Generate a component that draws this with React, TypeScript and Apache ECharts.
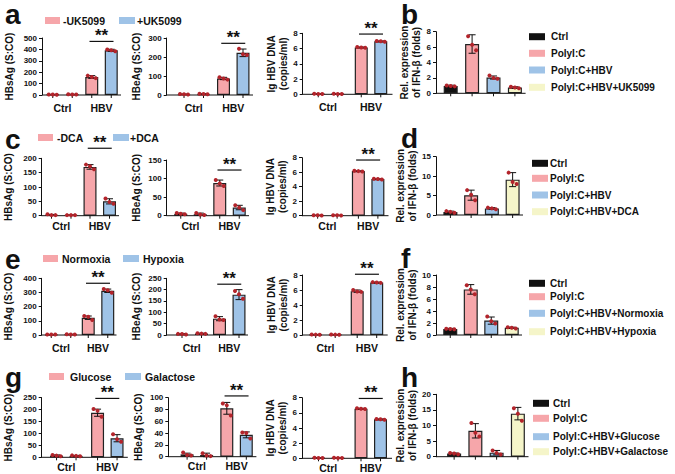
import React, { useEffect, useRef } from 'react';
import * as echarts from 'echarts';

const FONT = '"Liberation Sans", Arial, Helvetica, sans-serif';
const PINK = '#F6A6AA';
const BLUE = '#9FC3E7';
const YELLOW = '#F5F5C9';
const BLACK = '#111111';
const DOT = '#B3242B';

// ---------- categories / labels ----------
const CATEGORIES = ['Ctrl', 'HBV'];
const aLegend = ['-UK5099', '+UK5099'];
const cLegend = ['-DCA', '+DCA'];
const eLegend = ['Normoxia', 'Hypoxia'];
const gLegend = ['Glucose', 'Galactose'];
const bGroups = ['Ctrl', 'PolyI:C', 'PolyI:C+HBV', 'PolyI:C+HBV+UK5099'];
const dGroups = ['Ctrl', 'PolyI:C', 'PolyI:C+HBV', 'PolyI:C+HBV+DCA'];
const fGroups = ['Ctrl', 'PolyI:C', 'PolyI:C+HBV+Normoxia', 'PolyI:C+HBV+Hypoxia'];
const hGroups = ['Ctrl', 'PolyI:C', 'PolyI:C+HBV+Glucose', 'PolyI:C+HBV+Galactose'];
const sAgTitle = 'HBsAg (S:CO)';
const eAgTitle = 'HBeAg (S:CO)';
const dnaTitle = 'lg HBV DNA\n(copies/ml)';
const ifnTitle = 'Rel. expression\nof IFN-β (folds)';

// ---------- tick labels ----------
const aSAgTicks = [0, 100, 200, 300, 400, 500];
const aEAgTicks = [0, 100, 200, 300];
const cSAgTicks = [0, 50, 100, 150, 200];
const cEAgTicks = [0, 50, 100, 150];
const eSAgTicks = [0, 100, 200, 300, 400];
const eEAgTicks = [0, 50, 100, 150, 200, 250];
const gSAgTicks = [0, 50, 100, 150, 200, 250];
const gEAgTicks = [0, 20, 40, 60, 80, 100];
const dnaTicks = [0, 2, 4, 6, 8];
const bTicks = [0, 2, 4, 6, 8];
const dTicks = [0, 5, 10, 15];
const fTicks = [0, 2, 4, 6, 8, 10];
const hTicks = [0, 5, 10, 15, 20];

// ---------- row a (UK5099) ----------
const aSAgNeg = [4, 158]; const aSAgNegSD = [1, 12]; const aSAgNegPts = [[5, 4, 3], [170, 158, 148]];
const aSAgPos = [5, 392]; const aSAgPosSD = [1, 9]; const aSAgPosPts = [[6, 5, 4], [400, 392, 384]];
const aEAgNeg = [4, 87]; const aEAgNegSD = [1, 6]; const aEAgNegPts = [[5, 4, 3], [93, 87, 81]];
const aEAgPos = [5, 222]; const aEAgPosSD = [2, 20]; const aEAgPosPts = [[7, 5, 4], [243, 215, 210]];
const aDnaNeg = [0.05, 6.15]; const aDnaNegSD = [0.02, 0.05]; const aDnaNegPts = [[0.06, 0.05, 0.04], [6.2, 6.15, 6.1]];
const aDnaPos = [0.05, 6.95]; const aDnaPosSD = [0.02, 0.05]; const aDnaPosPts = [[0.06, 0.05, 0.04], [7.0, 6.95, 6.9]];
const aSig = [470, 272, 7.9];
const bIfn = [0.95, 6.4, 2.05, 0.75]; const bIfnSD = [0.1, 1.2, 0.2, 0.1];
const bIfnPts = [[1.0, 0.95, 0.9], [7.4, 6.3, 5.6], [2.3, 2.0, 1.9], [0.85, 0.75, 0.65]];

// ---------- row c (DCA) ----------
const cSAgNeg = [3, 170]; const cSAgNegSD = [1.5, 8]; const cSAgNegPts = [[5, 2, 2], [178, 172, 162]];
const cSAgPos = [2, 50]; const cSAgPosSD = [0.5, 9]; const cSAgPosPts = [[2, 2, 2], [60, 48, 42]];
const cEAgNeg = [5, 88]; const cEAgNegSD = [2, 8]; const cEAgNegPts = [[7, 5, 4], [96, 87, 80]];
const cEAgPos = [4, 22]; const cEAgPosSD = [3, 6]; const cEAgPosPts = [[7, 3, 2], [28, 22, 15]];
const cDnaNeg = [0.05, 6.15]; const cDnaNegSD = [0.02, 0.05]; const cDnaNegPts = [[0.06, 0.05, 0.04], [6.2, 6.15, 6.1]];
const cDnaPos = [0.05, 5.05]; const cDnaPosSD = [0.02, 0.05]; const cDnaPosPts = [[0.06, 0.05, 0.04], [5.1, 5.05, 5.0]];
const cSig = [235, 123, 7.68];
const dIfn = [0.8, 5.1, 1.7, 9.1]; const dIfnSD = [0.2, 1.3, 0.2, 1.8];
const dIfnPts = [[1.0, 0.8, 0.6], [6.4, 5.2, 3.8], [1.9, 1.7, 1.5], [10.9, 8.5, 8.0]];

// ---------- row e (Normoxia / Hypoxia) ----------
const eSAgNeg = [3, 122]; const eSAgNegSD = [0.5, 12]; const eSAgNegPts = [[3, 3, 3], [134, 128, 106]];
const eSAgPos = [4, 312]; const eSAgPosSD = [1, 12]; const eSAgPosPts = [[5, 4, 3], [325, 315, 298]];
const eEAgNeg = [4, 72]; const eEAgNegSD = [2, 9]; const eEAgNegPts = [[5, 4, 2], [83, 68, 66]];
const eEAgPos = [6, 178]; const eEAgPosSD = [2, 22]; const eEAgPosPts = [[8, 6, 5], [194, 180, 160]];
const eDnaNeg = [0.05, 5.85]; const eDnaNegSD = [0.02, 0.15]; const eDnaNegPts = [[0.06, 0.05, 0.04], [6.0, 5.8, 5.75]];
const eDnaPos = [0.05, 7.0]; const eDnaPosSD = [0.02, 0.05]; const eDnaPosPts = [[0.06, 0.05, 0.04], [7.05, 7.0, 6.95]];
const eSig = [365, 224, 8.1];
const fIfn = [1.0, 7.6, 2.4, 1.2]; const fIfnSD = [0.1, 0.8, 0.6, 0.1];
const fIfnPts = [[1.05, 1.0, 0.95], [8.3, 7.6, 6.8], [3.1, 2.3, 1.9], [1.3, 1.2, 1.1]];

// ---------- row g (Glucose / Galactose) ----------
const gSAgNeg = [7, 187]; const gSAgNegSD = [3, 15]; const gSAgNegPts = [[10, 7, 4], [203, 195, 170]];
const gSAgPos = [6, 80]; const gSAgPosSD = [2, 15]; const gSAgPosPts = [[8, 6, 4], [97, 76, 65]];
const gEAgNeg = [4, 82]; const gEAgNegSD = [2, 10]; const gEAgNegPts = [[7, 3, 2], [90, 87, 70]];
const gEAgPos = [3, 37]; const gEAgPosSD = [3, 5]; const gEAgPosPts = [[6, 2, 1], [41, 40, 31]];
const gDnaNeg = [0.05, 6.55]; const gDnaNegSD = [0.02, 0.05]; const gDnaNegPts = [[0.06, 0.05, 0.04], [6.6, 6.55, 6.5]];
const gDnaPos = [0.05, 5.15]; const gDnaPosSD = [0.02, 0.05]; const gDnaPosPts = [[0.06, 0.05, 0.04], [5.2, 5.15, 5.1]];
const gSig = [247, 103, 7.9];
const hIfn = [1.0, 8.3, 1.3, 13.8]; const hIfnSD = [0.2, 2.3, 0.7, 2.0];
const hIfnPts = [[1.2, 1.0, 0.8], [10.8, 7.7, 6.5], [2.0, 1.2, 0.7], [15.5, 13.8, 11.5]];

// ---------- layout (positions only) ----------
type Box = { axisX: number; left: number; width: number; top: number; bottom: number };
const ROWS = [
  {
    letter: 'a', ifnLetter: 'b', legend: aLegend, groups: bGroups, labelMargin: 7,
    letterPos: [5, 14], ifnLetterPos: [401, 14], legendY: 20.5, legendX: [45, 63, 119, 137],
    ifnLegX: [529, 551], ifnLegY: [36.7, 53.3, 70, 87.3],
    boxes: [
      { axisX: 42, left: 43, width: 78, top: 38, bottom: 95 },
      { axisX: 166.7, left: 174, width: 79, top: 38, bottom: 95 },
      { axisX: 302.7, left: 306.5, width: 86, top: 33.3, bottom: 94.3 },
    ] as Box[],
    ifnBox: { axisX: 436, left: 440, width: 85.6, top: 31.7, bottom: 93.3 },
    ticks: [aSAgTicks, aEAgTicks, dnaTicks], ifnTicks: bTicks,
    neg: [[aSAgNeg, aSAgNegSD, aSAgNegPts], [aEAgNeg, aEAgNegSD, aEAgNegPts], [aDnaNeg, aDnaNegSD, aDnaNegPts]],
    pos: [[aSAgPos, aSAgPosSD, aSAgPosPts], [aEAgPos, aEAgPosSD, aEAgPosPts], [aDnaPos, aDnaPosSD, aDnaPosPts]],
    sig: aSig, ifn: [bIfn, bIfnSD, bIfnPts],
  },
  {
    letter: 'c', ifnLetter: 'd', legend: cLegend, groups: dGroups, labelMargin: 5,
    letterPos: [5, 139], ifnLetterPos: [401, 138], legendY: 137.5, legendX: [38, 57, 113, 130],
    ifnLegX: [532, 550], ifnLegY: [163.3, 178.3, 195, 211.7],
    boxes: [
      { axisX: 41.7, left: 42, width: 77, top: 158.3, bottom: 215.7 },
      { axisX: 166.7, left: 171, width: 78, top: 160, bottom: 215.7 },
      { axisX: 302, left: 307, width: 81.5, top: 157.7, bottom: 215.7 },
    ] as Box[],
    ifnBox: { axisX: 436, left: 440, width: 83, top: 156.7, bottom: 215 },
    ticks: [cSAgTicks, cEAgTicks, dnaTicks], ifnTicks: dTicks,
    neg: [[cSAgNeg, cSAgNegSD, cSAgNegPts], [cEAgNeg, cEAgNegSD, cEAgNegPts], [cDnaNeg, cDnaNegSD, cDnaNegPts]],
    pos: [[cSAgPos, cSAgPosSD, cSAgPosPts], [cEAgPos, cEAgPosSD, cEAgPosPts], [cDnaPos, cDnaPosSD, cDnaPosPts]],
    sig: cSig, ifn: [dIfn, dIfnSD, dIfnPts],
  },
  {
    letter: 'e', ifnLetter: 'f', legend: eLegend, groups: fGroups, labelMargin: 7,
    letterPos: [5, 259], ifnLetterPos: [401, 258], legendY: 258.5, legendX: [43, 62, 123, 143],
    ifnLegX: [529, 550], ifnLegY: [283.3, 296.7, 313.3, 331.7],
    boxes: [
      { axisX: 41.7, left: 42.5, width: 74, top: 278.3, bottom: 335 },
      { axisX: 166.7, left: 173, width: 75, top: 278.3, bottom: 335 },
      { axisX: 302.7, left: 304.7, width: 83, top: 275, bottom: 335 },
    ] as Box[],
    ifnBox: { axisX: 436, left: 440, width: 82, top: 275, bottom: 335 },
    ticks: [eSAgTicks, eEAgTicks, dnaTicks], ifnTicks: fTicks,
    neg: [[eSAgNeg, eSAgNegSD, eSAgNegPts], [eEAgNeg, eEAgNegSD, eEAgNegPts], [eDnaNeg, eDnaNegSD, eDnaNegPts]],
    pos: [[eSAgPos, eSAgPosSD, eSAgPosPts], [eEAgPos, eEAgPosSD, eEAgPosPts], [eDnaPos, eDnaPosSD, eDnaPosPts]],
    sig: eSig, ifn: [fIfn, fIfnSD, fIfnPts],
  },
  {
    letter: 'g', ifnLetter: 'h', legend: gLegend, groups: hGroups, labelMargin: 4,
    letterPos: [5, 377], ifnLetterPos: [401, 377], legendY: 376.5, legendX: [49, 70, 125, 145],
    ifnLegX: [533, 553], ifnLegY: [403.3, 418.3, 436.7, 451.7],
    boxes: [
      { axisX: 41.7, left: 45.8, width: 82, top: 397.7, bottom: 457.3 },
      { axisX: 168.3, left: 177, width: 79.4, top: 397.7, bottom: 456.7 },
      { axisX: 302, left: 307, width: 85, top: 397.7, bottom: 458.3 },
    ] as Box[],
    ifnBox: { axisX: 436, left: 443.5, width: 85, top: 394.3, bottom: 456.7 },
    ticks: [gSAgTicks, gEAgTicks, dnaTicks], ifnTicks: hTicks,
    neg: [[gSAgNeg, gSAgNegSD, gSAgNegPts], [gEAgNeg, gEAgNegSD, gEAgNegPts], [gDnaNeg, gDnaNegSD, gDnaNegPts]],
    pos: [[gSAgPos, gSAgPosSD, gSAgPosPts], [gEAgPos, gEAgPosSD, gEAgPosPts], [gDnaPos, gDnaPosSD, gDnaPosPts]],
    sig: gSig, ifn: [hIfn, hIfnSD, hIfnPts],
  },
];
const TITLES = [sAgTitle, eAgTitle, dnaTitle];
const NAME_GAPS = [27, 24, 10];
const IFN_COLORS = [BLACK, PINK, BLUE, YELLOW];

function buildOption() {
  const grid: any[] = [];
  const xAxis: any[] = [];
  const yAxis: any[] = [];
  const series: any[] = [];
  const graphic: any[] = [];

  const lineStyle = { stroke: BLACK, lineWidth: 1 };

  const addAxes = (box: Box, cats: string[], ticks: number[], title: string, nameGap: number, labelMargin: number, showCatLabels: boolean) => {
    const gi = grid.length;
    grid.push({ left: box.left, top: box.top, width: box.width, height: box.bottom - box.top });
    xAxis.push({
      gridIndex: gi, type: 'category', data: cats,
      axisLine: { show: false }, axisTick: { show: false }, splitLine: { show: false },
      axisLabel: { show: showCatLabels, fontSize: 10.5, fontWeight: 'bold', color: BLACK, fontFamily: FONT, margin: labelMargin },
    });
    yAxis.push({
      gridIndex: gi, type: 'value', min: ticks[0], max: ticks[ticks.length - 1], interval: ticks[1] - ticks[0],
      offset: box.left - box.axisX,
      axisLine: { show: true, lineStyle: { color: BLACK, width: 1 } },
      axisTick: { show: true, length: 3, lineStyle: { color: BLACK, width: 1 } },
      axisLabel: { fontSize: 8, fontWeight: 'bold', color: BLACK, fontFamily: FONT, margin: 5 },
      splitLine: { show: false },
      name: title, nameLocation: 'middle', nameGap,
      nameTextStyle: { fontSize: 10, fontWeight: 'bold', color: BLACK, fontFamily: FONT, lineHeight: 12, align: 'center' },
    });
    // baseline (x axis line from the y axis to the grid's right edge)
    const off = box.left - box.axisX;
    series.push({
      type: 'custom', xAxisIndex: gi, yAxisIndex: gi, z: 4, silent: true, data: [[0, 0]],
      renderItem: (params: any) => {
        const cs = params.coordSys;
        const y = cs.y + cs.height;
        return { type: 'line', shape: { x1: cs.x - off, y1: y, x2: cs.x + cs.width, y2: y }, style: lineStyle };
      },
    });
    return gi;
  };

  const errSeries = (gi: number, means: number[], sds: number[], pts: number[][], offset: number) => ({
    type: 'custom', xAxisIndex: gi, yAxisIndex: gi, z: 5, silent: true, clip: false,
    data: means.map((m, i) => [i, m, sds[i], pts[i][0], pts[i][1], pts[i][2]]),
    renderItem: (params: any, api: any) => {
      const i = api.value(0);
      const m = api.value(1);
      const sd = api.value(2);
      const base = api.coord([i, 0]);
      const x = base[0] + offset;
      const y0 = base[1];
      const yt = api.coord([i, m + sd])[1];
      const yb = api.coord([i, Math.max(0, m - sd)])[1];
      const children: any[] = [
        { type: 'line', shape: { x1: x, y1: y0, x2: x, y2: y0 + 3 }, style: lineStyle },
        { type: 'line', shape: { x1: x, y1: yb, x2: x, y2: yt }, style: lineStyle },
        { type: 'line', shape: { x1: x - 3.5, y1: yt, x2: x + 3.5, y2: yt }, style: lineStyle },
        { type: 'line', shape: { x1: x - 3.5, y1: yb, x2: x + 3.5, y2: yb }, style: lineStyle },
      ];
      [-4, 0, 4].forEach((dx, k) => {
        const y = api.coord([i, api.value(3 + k)])[1];
        children.push({ type: 'circle', shape: { cx: x + dx, cy: y, r: 2 }, style: { fill: DOT } });
      });
      return { type: 'group', children };
    },
  });

  const sigSeries = (gi: number, level: number) => ({
    type: 'custom', xAxisIndex: gi, yAxisIndex: gi, z: 6, silent: true, clip: false,
    data: [[1, level]],
    renderItem: (params: any, api: any) => {
      const c = api.coord([api.value(0), api.value(1)]);
      return {
        type: 'group',
        children: [
          { type: 'line', shape: { x1: c[0] - 12, y1: c[1], x2: c[0] + 12, y2: c[1] }, style: { stroke: BLACK, lineWidth: 1.2 } },
          {
            type: 'text', x: c[0], y: c[1] + 3,
            style: { text: '**', fontSize: 17, fontWeight: 'bold', fontFamily: FONT, fill: BLACK, align: 'center', verticalAlign: 'bottom' },
          },
        ],
      };
    },
  });

  const txt = (text: string, x: number, y: number, size: number, lineHeight?: number) => ({
    type: 'text', x, y, silent: true,
    style: {
      text, fontSize: size, fontWeight: 'bold', fontFamily: FONT, fill: BLACK,
      lineHeight: lineHeight || size,
      align: 'left', textAlign: 'left', verticalAlign: 'middle', textVerticalAlign: 'middle',
    },
  });

  ROWS.forEach((row) => {
    const half = 9.75;
    row.boxes.forEach((box, p) => {
      const gi = addAxes(box, CATEGORIES, row.ticks[p], TITLES[p], NAME_GAPS[p], row.labelMargin, true);
      const [nm, nsd, npts] = row.neg[p] as [number[], number[], number[][]];
      const [pm, psd, ppts] = row.pos[p] as [number[], number[], number[][]];
      const barStyle = (color: string) => ({ color, borderColor: '#222', borderWidth: 1.2 });
      series.push({ type: 'bar', name: row.legend[0], xAxisIndex: gi, yAxisIndex: gi, data: nm, barWidth: 13, barGap: '50%', itemStyle: barStyle(PINK), z: 2, silent: true });
      series.push({ type: 'bar', name: row.legend[1], xAxisIndex: gi, yAxisIndex: gi, data: pm, barWidth: 13, barGap: '50%', itemStyle: barStyle(BLUE), z: 2, silent: true });
      series.push(errSeries(gi, nm, nsd, npts, -half));
      series.push(errSeries(gi, pm, psd, ppts, half));
      series.push(sigSeries(gi, row.sig[p]));
    });

    // IFN panel
    const gi = addAxes(row.ifnBox, row.groups, row.ifnTicks, ifnTitle, 14, 4, false);
    const [im, isd, ipts] = row.ifn as [number[], number[], number[][]];
    series.push({
      type: 'bar', xAxisIndex: gi, yAxisIndex: gi, barWidth: 14, z: 2, silent: true,
      data: im.map((v, i) => ({ value: v, itemStyle: { color: IFN_COLORS[i], borderColor: '#222', borderWidth: 1.2 } })),
    });
    series.push(errSeries(gi, im, isd, ipts, 0));

    // panel letters
    graphic.push(txt(row.letter, row.letterPos[0], row.letterPos[1], 28, 24));
    graphic.push(txt(row.ifnLetter, row.ifnLetterPos[0], row.ifnLetterPos[1], 28, 24));

    // top legend
    const [r1, t1, r2, t2] = row.legendX;
    graphic.push({ type: 'rect', silent: true, shape: { x: r1, y: row.legendY - 3.5, width: 15, height: 7 }, style: { fill: PINK } });
    graphic.push(txt(row.legend[0], t1, row.legendY, 10.5));
    graphic.push({ type: 'rect', silent: true, shape: { x: r2, y: row.legendY - 3.5, width: 16, height: 7 }, style: { fill: BLUE } });
    graphic.push(txt(row.legend[1], t2, row.legendY, 10.5));

    // IFN legend
    row.groups.forEach((g, i) => {
      const y = row.ifnLegY[i];
      graphic.push({ type: 'rect', silent: true, shape: { x: row.ifnLegX[0], y: y - 3.5, width: 16, height: 7 }, style: { fill: IFN_COLORS[i] } });
      graphic.push(txt(g, row.ifnLegX[1], y, 10));
    });
  });

  return { animation: false, grid, xAxis, yAxis, series, graphic };
}

export default function App() {
  const ref = useRef<HTMLDivElement>(null);
  useEffect(() => {
    if (!ref.current) return;
    const chart = echarts.init(ref.current, null, { renderer: 'svg' });
    chart.setOption(buildOption() as any);
    return () => chart.dispose();
  }, []);
  return (
    <div
      ref={ref}
      style={{ position: 'absolute', left: 0, top: 0, width: 675, height: 474, background: '#ffffff' }}
    />
  );
}
